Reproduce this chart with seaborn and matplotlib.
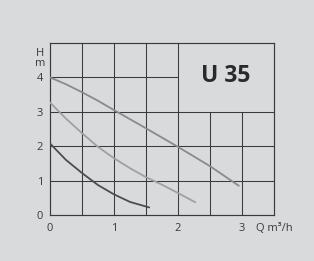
import pandas as pd
import matplotlib
matplotlib.use("Agg")
import matplotlib.pyplot as plt
import seaborn as sns

# Kennlinien (Q in m³/h, H in m)
q_top = [0, 0.25, 0.5, 0.75, 1.0, 1.5, 2.0, 2.5, 2.95]
h_top = [4.0, 3.8, 3.57, 3.32, 3.05, 2.52, 1.98, 1.42, 0.85]
q_mid = [0, 0.25, 0.5, 0.75, 1.0, 1.25, 1.5, 1.75, 2.0, 2.27]
h_mid = [3.27, 2.8, 2.38, 1.98, 1.65, 1.36, 1.1, 0.88, 0.64, 0.37]
q_low = [0, 0.25, 0.5, 0.75, 1.0, 1.25, 1.55]
h_low = [2.08, 1.6, 1.22, 0.87, 0.6, 0.38, 0.22]

x_ticks = [0, 1, 2, 3]
y_ticks = [0, 1, 2, 3, 4]
title = "U 35"

bg = "#d9dadb"
ink = "#3a3a3a"

sns.set_style("white", {"axes.facecolor": bg, "figure.facecolor": bg})
plt.rcParams["font.family"] = ["Open Sans", "DejaVu Sans"]

df = pd.concat([
    pd.DataFrame({"Q": q_top, "H": h_top, "stufe": "3"}),
    pd.DataFrame({"Q": q_mid, "H": h_mid, "stufe": "2"}),
    pd.DataFrame({"Q": q_low, "H": h_low, "stufe": "1"}),
])

fig = plt.figure(figsize=(3.14, 2.61), dpi=100)
ax = fig.add_axes([50 / 314, 46 / 261, 224 / 314, 172 / 261])

# Raster
for x in [0.5, 1.0, 1.5, 2.0]:
    ax.plot([x, x], [0, 5], color=ink, lw=0.75, zorder=1)
for x in [2.5, 3.0]:
    ax.plot([x, x], [0, 3], color=ink, lw=0.75, zorder=1)
for y in [1, 2, 3]:
    ax.plot([0, 3.5], [y, y], color=ink, lw=0.75, zorder=1)
ax.plot([0, 2.0], [4, 4], color=ink, lw=0.75, zorder=1)

sns.lineplot(data=df, x="Q", y="H", hue="stufe", sort=False,
             palette={"3": "#8a8a8a", "2": "#a0a0a0", "1": "#4d4d4d"},
             lw=1.3, legend=False, ax=ax, zorder=3)

ax.set_xlim(0, 3.5)
ax.set_ylim(0, 5)
ax.set_xticks(x_ticks)
ax.set_yticks(y_ticks)
ax.set_xticklabels([str(v) for v in x_ticks])
ax.set_yticklabels([str(v) for v in y_ticks])
ax.tick_params(axis="both", length=0, labelsize=8, colors=ink)
ax.tick_params(axis="x", pad=6)
ax.tick_params(axis="y", pad=5)
ax.set_xlabel("")
ax.set_ylabel("")
for s in ax.spines.values():
    s.set_visible(True)
    s.set_color(ink)
    s.set_linewidth(0.85)

ax.text(2.75, 4.05, title, ha="center", va="center", fontsize=16.5,
        fontweight="bold", color="#2a2a2a")
ax.text(3.22, -0.38, "Q m³/h", ha="left", va="center", fontsize=8,
        color=ink, clip_on=False)
ax.text(-0.16, 4.55, "H\nm", ha="center", va="center", fontsize=8,
        color=ink, linespacing=0.85, clip_on=False)

fig.savefig("out.png", dpi=100, facecolor=bg)
